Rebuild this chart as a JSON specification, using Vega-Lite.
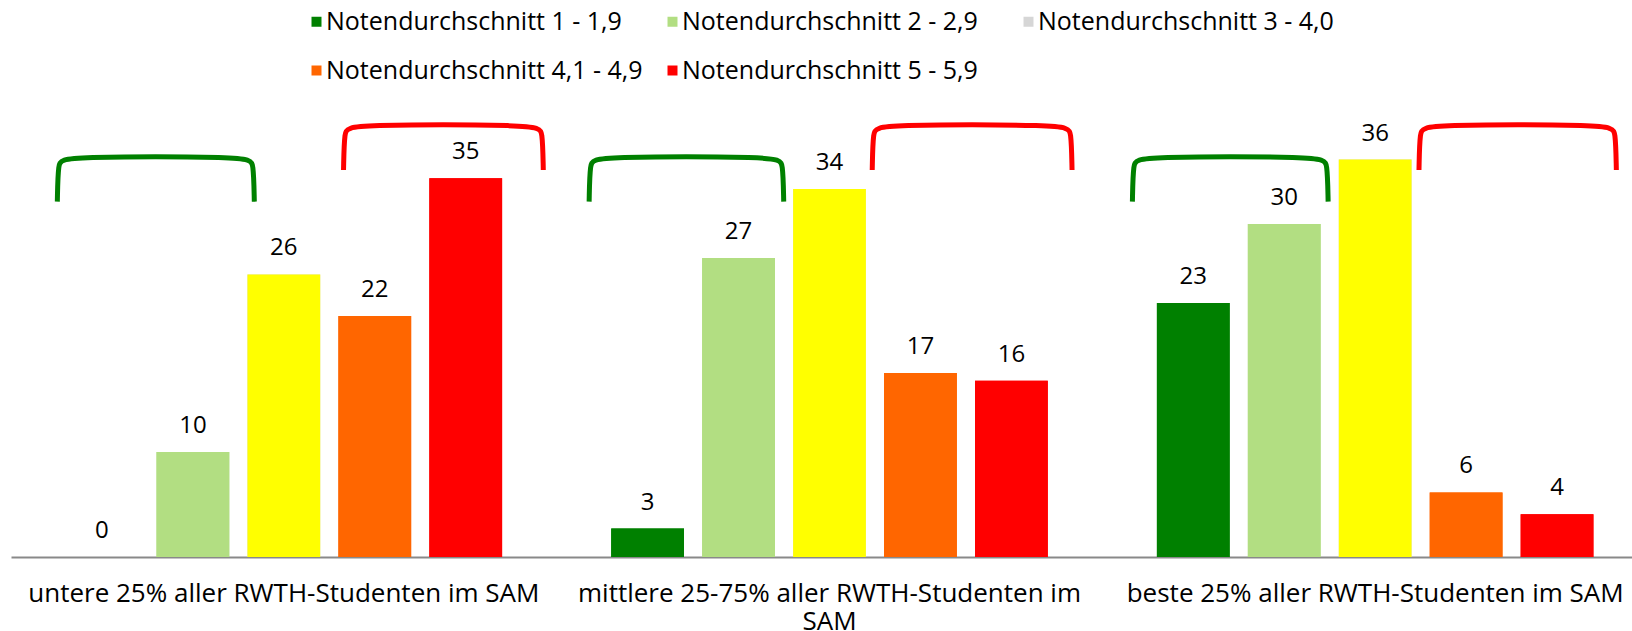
{
  "$schema": "https://vega.github.io/schema/vega-lite/v6.json",
  "width": 1621,
  "height": 438,
  "autosize": {"type": "none"},
  "padding": {"left": 11, "top": 119, "right": 0, "bottom": 74},
  "config": {"font": "Open Sans", "view": {"stroke": null}},
  "datasets": {
    "bars": [
      {"gruppe": "untere 25% aller RWTH-Studenten im SAM", "note": "Notendurchschnitt 1 - 1,9", "wert": 0},
      {"gruppe": "untere 25% aller RWTH-Studenten im SAM", "note": "Notendurchschnitt 2 - 2,9", "wert": 9.6},
      {"gruppe": "untere 25% aller RWTH-Studenten im SAM", "note": "Notendurchschnitt 3 - 4,0", "wert": 25.8},
      {"gruppe": "untere 25% aller RWTH-Studenten im SAM", "note": "Notendurchschnitt 4,1 - 4,9", "wert": 22.0},
      {"gruppe": "untere 25% aller RWTH-Studenten im SAM", "note": "Notendurchschnitt 5 - 5,9", "wert": 34.6},
      {"gruppe": "mittlere 25-75% aller RWTH-Studenten im SAM", "note": "Notendurchschnitt 1 - 1,9", "wert": 2.6},
      {"gruppe": "mittlere 25-75% aller RWTH-Studenten im SAM", "note": "Notendurchschnitt 2 - 2,9", "wert": 27.3},
      {"gruppe": "mittlere 25-75% aller RWTH-Studenten im SAM", "note": "Notendurchschnitt 3 - 4,0", "wert": 33.6},
      {"gruppe": "mittlere 25-75% aller RWTH-Studenten im SAM", "note": "Notendurchschnitt 4,1 - 4,9", "wert": 16.8},
      {"gruppe": "mittlere 25-75% aller RWTH-Studenten im SAM", "note": "Notendurchschnitt 5 - 5,9", "wert": 16.1},
      {"gruppe": "beste 25% aller RWTH-Studenten im SAM", "note": "Notendurchschnitt 1 - 1,9", "wert": 23.2},
      {"gruppe": "beste 25% aller RWTH-Studenten im SAM", "note": "Notendurchschnitt 2 - 2,9", "wert": 30.4},
      {"gruppe": "beste 25% aller RWTH-Studenten im SAM", "note": "Notendurchschnitt 3 - 4,0", "wert": 36.3},
      {"gruppe": "beste 25% aller RWTH-Studenten im SAM", "note": "Notendurchschnitt 4,1 - 4,9", "wert": 5.9},
      {"gruppe": "beste 25% aller RWTH-Studenten im SAM", "note": "Notendurchschnitt 5 - 5,9", "wert": 3.9}
    ],
    "klammern": [
      {"klammer": "g1", "art": "gut", "pos": 0.0849, "hoehe": 32.45},
      {"klammer": "g1", "art": "gut", "pos": 0.0864, "hoehe": 36.06},
      {"klammer": "g1", "art": "gut", "pos": 0.0949, "hoehe": 36.56},
      {"klammer": "g1", "art": "gut", "pos": 0.4359, "hoehe": 36.56},
      {"klammer": "g1", "art": "gut", "pos": 0.4444, "hoehe": 36.06},
      {"klammer": "g1", "art": "gut", "pos": 0.4459, "hoehe": 32.45},
      {"klammer": "r1", "art": "schlecht", "pos": 0.6094, "hoehe": 35.34},
      {"klammer": "r1", "art": "schlecht", "pos": 0.6109, "hoehe": 38.98},
      {"klammer": "r1", "art": "schlecht", "pos": 0.6194, "hoehe": 39.48},
      {"klammer": "r1", "art": "schlecht", "pos": 0.9655, "hoehe": 39.48},
      {"klammer": "r1", "art": "schlecht", "pos": 0.9740, "hoehe": 38.98},
      {"klammer": "r1", "art": "schlecht", "pos": 0.9755, "hoehe": 35.34},
      {"klammer": "g2", "art": "gut", "pos": 1.0595, "hoehe": 32.45},
      {"klammer": "g2", "art": "gut", "pos": 1.0610, "hoehe": 36.06},
      {"klammer": "g2", "art": "gut", "pos": 1.0695, "hoehe": 36.56},
      {"klammer": "g2", "art": "gut", "pos": 1.4061, "hoehe": 36.56},
      {"klammer": "g2", "art": "gut", "pos": 1.4146, "hoehe": 36.06},
      {"klammer": "g2", "art": "gut", "pos": 1.4161, "hoehe": 32.45},
      {"klammer": "r2", "art": "schlecht", "pos": 1.5783, "hoehe": 35.34},
      {"klammer": "r2", "art": "schlecht", "pos": 1.5798, "hoehe": 38.98},
      {"klammer": "r2", "art": "schlecht", "pos": 1.5883, "hoehe": 39.48},
      {"klammer": "r2", "art": "schlecht", "pos": 1.9345, "hoehe": 39.48},
      {"klammer": "r2", "art": "schlecht", "pos": 1.9430, "hoehe": 38.98},
      {"klammer": "r2", "art": "schlecht", "pos": 1.9445, "hoehe": 35.34},
      {"klammer": "g3", "art": "gut", "pos": 2.0551, "hoehe": 32.45},
      {"klammer": "g3", "art": "gut", "pos": 2.0566, "hoehe": 36.06},
      {"klammer": "g3", "art": "gut", "pos": 2.0651, "hoehe": 36.56},
      {"klammer": "g3", "art": "gut", "pos": 2.4038, "hoehe": 36.56},
      {"klammer": "g3", "art": "gut", "pos": 2.4123, "hoehe": 36.06},
      {"klammer": "g3", "art": "gut", "pos": 2.4138, "hoehe": 32.45},
      {"klammer": "r3", "art": "schlecht", "pos": 2.5803, "hoehe": 35.34},
      {"klammer": "r3", "art": "schlecht", "pos": 2.5818, "hoehe": 38.98},
      {"klammer": "r3", "art": "schlecht", "pos": 2.5903, "hoehe": 39.48},
      {"klammer": "r3", "art": "schlecht", "pos": 2.9320, "hoehe": 39.48},
      {"klammer": "r3", "art": "schlecht", "pos": 2.9405, "hoehe": 38.98},
      {"klammer": "r3", "art": "schlecht", "pos": 2.9420, "hoehe": 35.34}
    ]
  },
  "layer": [
    {
      "data": {"name": "bars"},
      "encoding": {
        "x": {
          "field": "gruppe", "type": "nominal", "sort": null,
          "scale": {"range": [0, 1637], "paddingInner": 0, "paddingOuter": 0},
          "axis": {
            "title": null, "ticks": false, "labelAngle": 0, "labelFontSize": 26,
            "labelColor": "#000000", "labelPadding": 23, "labelLimit": 700,
            "labelOverlap": false, "labelBound": false, "labelLineHeight": 28,
            "domainColor": "#898989", "domainWidth": 2,
            "labelExpr": "datum.label == 'mittlere 25-75% aller RWTH-Studenten im SAM' ? ['mittlere 25-75% aller RWTH-Studenten im', 'SAM'] : datum.label"
          }
        },
        "xOffset": {
          "field": "note", "type": "nominal", "sort": null,
          "scale": {"paddingInner": 0.2, "paddingOuter": 0.6}
        },
        "y": {
          "field": "wert", "type": "quantitative",
          "scale": {"domain": [0, 40], "nice": false, "zero": true},
          "axis": null
        }
      },
      "layer": [
        {
          "mark": {"type": "bar"},
          "encoding": {
            "fill": {
              "field": "note", "type": "nominal", "sort": null,
              "scale": {
                "domain": ["Notendurchschnitt 1 - 1,9", "Notendurchschnitt 2 - 2,9", "Notendurchschnitt 3 - 4,0", "Notendurchschnitt 4,1 - 4,9", "Notendurchschnitt 5 - 5,9"],
                "range": ["#008000", "#b2de82", "#d6d6d6", "#ff6600", "#ff0000"]
              },
              "legend": {
                "title": null, "orient": "none", "legendX": 293, "legendY": -110,
                "columns": 3, "direction": "horizontal", "gridAlign": "all",
                "labelFontSize": 25, "labelColor": "#000000", "labelLimit": 500,
                "symbolType": "square", "symbolSize": 100, "symbolStrokeWidth": 0,
                "labelOffset": -3, "columnPadding": 17, "rowPadding": 23
              }
            }
          }
        },
        {
          "mark": {"type": "bar"},
          "encoding": {
            "color": {
              "field": "note", "type": "nominal", "sort": null,
              "scale": {
                "domain": ["Notendurchschnitt 1 - 1,9", "Notendurchschnitt 2 - 2,9", "Notendurchschnitt 3 - 4,0", "Notendurchschnitt 4,1 - 4,9", "Notendurchschnitt 5 - 5,9"],
                "range": ["#008000", "#b2de82", "#ffff00", "#ff6600", "#ff0000"]
              },
              "legend": null
            }
          }
        },
        {
          "mark": {"type": "text", "baseline": "alphabetic", "dy": -19, "fontSize": 24, "color": "#000000"},
          "encoding": {
            "text": {"field": "wert", "type": "quantitative", "format": ".0f"}
          }
        }
      ]
    },
    {
      "data": {"name": "klammern"},
      "mark": {"type": "line", "interpolate": "basis", "strokeWidth": 5, "strokeCap": "butt"},
      "encoding": {
        "x": {"field": "pos", "type": "quantitative", "scale": {"domain": [0, 3], "range": [0, 1637], "nice": false, "zero": false}, "axis": null},
        "y": {"field": "hoehe", "type": "quantitative", "scale": {"domain": [0, 40], "nice": false, "zero": true}, "axis": null},
        "detail": {"field": "klammer", "type": "nominal"},
        "stroke": {"field": "art", "type": "nominal", "scale": {"domain": ["gut", "schlecht"], "range": ["#008000", "#ff0000"]}, "legend": null}
      }
    }
  ],
  "resolve": {"scale": {"x": "independent"}}
}
